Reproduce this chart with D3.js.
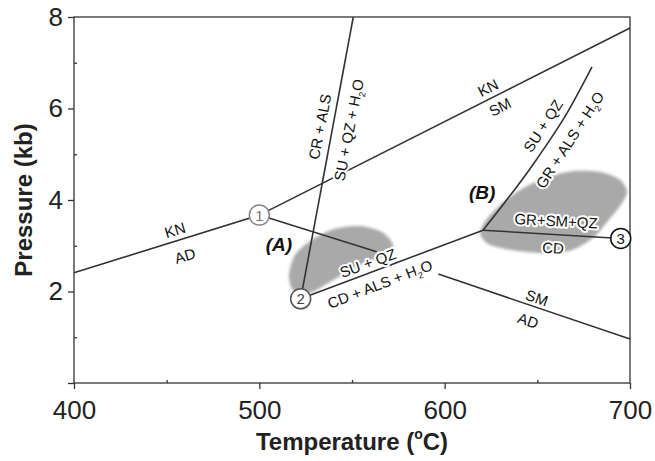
<!DOCTYPE html>
<html>
<head>
<meta charset="utf-8">
<script src="https://cdn.jsdelivr.net/npm/d3@7"></script>
<style>
  body { margin: 0; background: #fff; }
  svg { font-family: "Liberation Sans", Arial, sans-serif; }
  .axis text { font-size: 26px; fill: #222; }
  .axis path, .axis line { stroke: #333; stroke-width: 1.3; }
  .rxn { fill: none; stroke: #333; stroke-width: 1.6; }
  .lbl { font-size: 15px; fill: #111; paint-order: stroke; stroke: #fff; stroke-width: 4px; stroke-linejoin: round; }
  .field { font-size: 19px; font-weight: bold; font-style: italic; fill: #111; }
  .title { font-size: 24px; font-weight: bold; fill: #222; }
</style>
</head>
<body>
<div id="chart"></div>
<script>
// axes
const tempTicks = [400, 500, 600, 700];
const tempMinor = [450, 550, 650];
const pressTicks = [0, 2, 4, 6, 8];
const pressMinor = [1, 3, 5, 7];

// invariant points [T, P, name]
const points = [[500, 3.67, "1"], [522.3, 1.84, "2"], [695, 3.16, "3"]];

// reaction lines, [T (°C), P (kb)]
const knAd = [[400, 2.41], [500, 3.67]];
const knSm = [[500, 3.67], [700, 7.76]];
const crAls = [[522.3, 1.84], [550.7, 8]];
const suQzA = [[500, 3.67], [563.3, 2.87]];
const smAd = [[596.6, 2.38], [700, 0.96]];
const cdAls = [[522.3, 1.84], [620.7, 3.34]];
const grAls = [[620.7, 3.34], [649.3, 4.87], [666, 5.9], [679.5, 6.91]];
const grSm = [[620.7, 3.34], [695, 3.16]];

// grey fields
const blobA = [[516.0, 2.36], [519.2, 2.80], [528.4, 3.13], [540.8, 3.37], [554.3, 3.43], [566.2, 3.30],
  [572.1, 3.02], [567.8, 2.80], [554.3, 2.58], [538.1, 2.21], [527.3, 1.97], [518.2, 2.03]];
const blobB = [[619.1, 3.28], [622.3, 3.56], [629.9, 3.89], [640.7, 4.22], [654.1, 4.48], [668.7, 4.63],
  [683.8, 4.61], [694.6, 4.44], [698.4, 4.17], [694.6, 3.87], [687.6, 3.52], [680.0, 3.17],
  [667.6, 2.89], [651.4, 2.84], [635.3, 2.91], [623.4, 3.04]];

// labels: text, T, P, rotation
const labels = [
  ["KN", 454.5, 3.34, -17], ["AD", 459.9, 2.78, -17],
  ["SU + QZ", 558.6, 2.62, -20], ["CD + ALS + H|2|O", 565.1, 2.16, -21],
  ["CR + ALS", 532.7, 5.60, -79], ["SU + QZ + H|2|O", 548.4, 5.53, -79],
  ["KN", 623.4, 6.45, -27], ["SM", 629.9, 6.03, -27],
  ["SU + QZ", 653.1, 5.62, -57], ["GR + ALS + H|2|O", 667.6, 5.31, -57],
  ["GR+SM+QZ", 660.1, 3.54, 3], ["CD", 658.5, 2.95, 3],
  ["SM", 649.8, 1.86, 19], ["AD", 645.0, 1.36, 19]
];
const fields = [["(A)", 510.6, 3.02], ["(B)", 620.2, 4.17]];

const width = 655;
const height = 461;
const margin = {top: 17, right: 25, bottom: 78, left: 74};

const svg = d3.select("#chart").append("svg")
    .attr("width", width)
    .attr("height", height);

const x = d3.scaleLinear().domain([400, 700]).range([margin.left, width - margin.right]);
const y = d3.scaleLinear().domain([0, 8]).range([height - margin.bottom, margin.top]);

svg.append("defs").append("filter").attr("id", "soft")
  .append("feGaussianBlur").attr("stdDeviation", 1.6);

const blobLine = d3.line().x(d => x(d[0])).y(d => y(d[1])).curve(d3.curveCardinalClosed.tension(0.2));
svg.selectAll("path.blob")
  .data([blobA, blobB])
  .enter().append("path")
  .attr("class", "blob")
  .attr("d", blobLine)
  .attr("fill", "#a9a9a9")
  .attr("filter", "url(#soft)");

// frame
svg.append("rect")
  .attr("x", x(400)).attr("y", y(8))
  .attr("width", x(700) - x(400)).attr("height", y(0) - y(8))
  .attr("fill", "none").attr("stroke", "#333").attr("stroke-width", 1.3);

svg.append("g").attr("class", "axis")
  .attr("transform", `translate(0,${y(0)})`)
  .call(d3.axisBottom(x).tickValues(tempTicks).tickSize(6).tickPadding(12).tickFormat(d3.format("d")));
svg.append("g").attr("class", "axis")
  .attr("transform", `translate(0,${y(0)})`)
  .call(d3.axisTop(x).tickValues(tempMinor).tickSize(3).tickFormat(""));
svg.append("g").attr("class", "axis")
  .attr("transform", `translate(${x(400)},0)`)
  .call(d3.axisLeft(y).tickValues(pressTicks).tickSize(6).tickPadding(5).tickFormat(d => d === 0 ? "" : d));
svg.append("g").attr("class", "axis")
  .attr("transform", `translate(${x(400)},0)`)
  .call(d3.axisRight(y).tickValues(pressMinor).tickSize(3).tickFormat(""));
svg.selectAll(".axis .domain").remove();

const line = d3.line().x(d => x(d[0])).y(d => y(d[1]));
const curve = d3.line().x(d => x(d[0])).y(d => y(d[1])).curve(d3.curveMonotoneX);

svg.selectAll("path.rxn")
  .data([knAd, knSm, crAls, suQzA, smAd, cdAls, grSm])
  .enter().append("path")
  .attr("class", "rxn")
  .attr("d", line);
svg.append("path").attr("class", "rxn").attr("d", curve(grAls));

// labels
const lbl = svg.selectAll("text.lbl")
  .data(labels)
  .enter().append("text")
  .attr("class", "lbl")
  .attr("text-anchor", "middle")
  .attr("dy", "0.35em")
  .attr("transform", d => `translate(${x(d[1])},${y(d[2])}) rotate(${d[3]})`);
lbl.each(function(d) {
  const parts = d[0].split("|");
  const t = d3.select(this);
  parts.forEach((p, i) => {
    const s = t.append("tspan").text(p);
    if (i === 1) s.attr("font-size", "9px").attr("dy", "4");
    if (i === 2) s.attr("dy", "-4");
  });
});

svg.selectAll("text.field")
  .data(fields)
  .enter().append("text")
  .attr("class", "field")
  .attr("text-anchor", "middle")
  .attr("dy", "0.35em")
  .attr("x", d => x(d[1]))
  .attr("y", d => y(d[2]))
  .text(d => d[0]);

// invariant points
const pt = svg.selectAll("g.pt")
  .data(points)
  .enter().append("g")
  .attr("class", "pt")
  .attr("transform", d => `translate(${x(d[0])},${y(d[1])})`);
pt.append("circle")
  .attr("r", 10)
  .attr("fill", "#fff")
  .attr("stroke", (d, i) => ["#888", "#555", "#111"][i])
  .attr("stroke-width", 1.5);
pt.append("text")
  .attr("text-anchor", "middle")
  .attr("dy", "0.36em")
  .attr("font-size", "15px")
  .attr("fill", (d, i) => ["#777", "#444", "#111"][i])
  .text(d => d[2]);

// axis titles
svg.append("text")
  .attr("class", "title")
  .attr("text-anchor", "middle")
  .attr("x", (x(400) + x(700)) / 2)
  .attr("y", 450)
  .call(t => {
    t.append("tspan").text("Temperature (");
    t.append("tspan").text("o").attr("font-size", "14px").attr("dy", "-11");
    t.append("tspan").text("C)").attr("dy", "11");
  });
svg.append("text")
  .attr("class", "title")
  .attr("text-anchor", "middle")
  .attr("transform", `translate(32,${y(4)}) rotate(-90)`)
  .text("Pressure (kb)");
</script>
</body>
</html>
